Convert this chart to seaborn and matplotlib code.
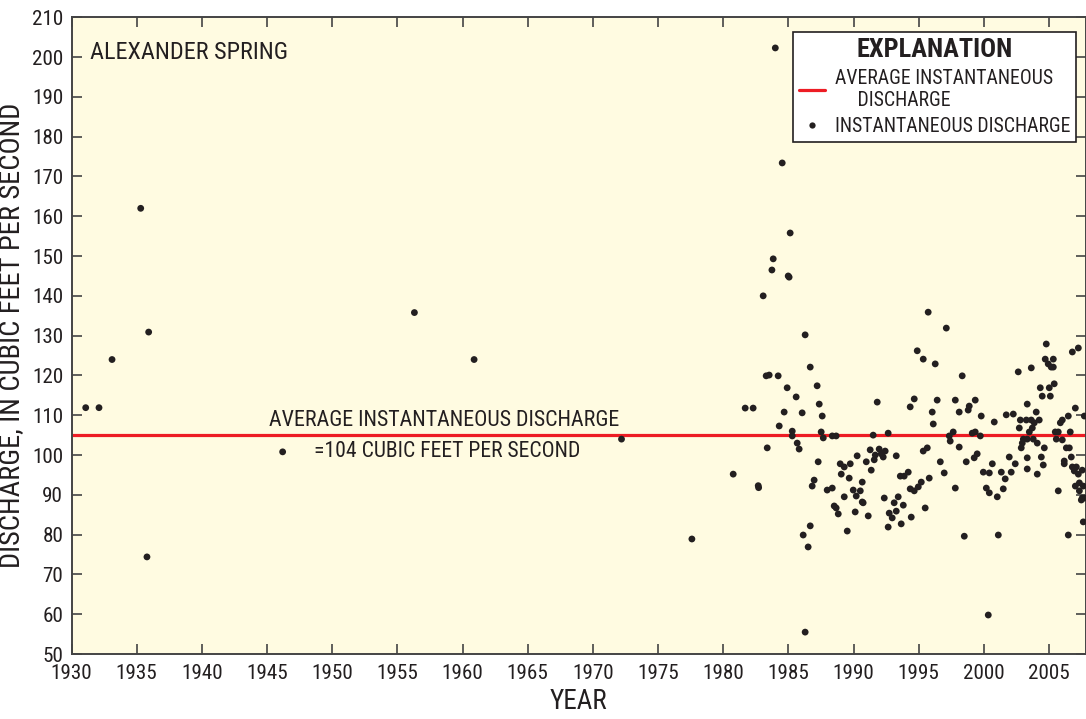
import matplotlib
matplotlib.use("Agg")
import matplotlib.pyplot as plt
from matplotlib.lines import Line2D
import seaborn as sns
import pandas as pd

# ---------------- data ----------------
years = [
    1931.09, 1932.11, 1933.11, 1935.31, 1935.79, 1935.92, 1946.2, 1956.31, 1960.89, 1972.2,
    1977.6, 1980.77, 1981.69, 1982.30, 1982.69, 1982.72, 1983.07, 1983.30, 1983.38, 1983.53,
    1983.74, 1983.84, 1984.0, 1984.22, 1984.30, 1984.53, 1984.68, 1984.91, 1984.99, 1985.06,
    1985.14, 1985.30, 1985.30, 1985.60, 1985.68, 1985.83, 1986.06, 1986.14, 1986.29, 1986.29,
    1986.52, 1986.68, 1986.68, 1986.83, 1986.98, 1987.21, 1987.29, 1987.37, 1987.52, 1987.60,
    1987.68, 1987.98, 1988.37, 1988.37, 1988.52, 1988.67, 1988.67, 1988.83, 1988.98, 1989.06,
    1989.29, 1989.29, 1989.52, 1989.67, 1989.75, 1989.98, 1990.13, 1990.21, 1990.28, 1990.52,
    1990.67, 1990.67, 1990.74, 1990.98, 1991.13, 1991.28, 1991.36, 1991.51, 1991.59, 1991.67,
    1991.82, 1991.97, 1992.13, 1992.28, 1992.36, 1992.43, 1992.66, 1992.66, 1992.74, 1992.97,
    1993.12, 1993.28, 1993.28, 1993.43, 1993.59, 1993.66, 1993.82, 1993.89, 1994.20, 1994.35,
    1994.35, 1994.43, 1994.66, 1994.66, 1994.89, 1994.97, 1995.20, 1995.35, 1995.35, 1995.50,
    1995.66, 1995.73, 1995.81, 1996.04, 1996.12, 1996.27, 1996.42, 1996.66, 1996.96, 1997.12,
    1997.35, 1997.42, 1997.65, 1997.81, 1997.81, 1998.11, 1998.11, 1998.34, 1998.50, 1998.65,
    1998.80, 1998.88, 1999.11, 1999.26, 1999.34, 1999.34, 1999.49, 1999.73, 1999.80, 1999.96,
    2000.19, 2000.34, 2000.42, 2000.42, 2000.65, 2000.80, 2001.03, 2001.11, 2001.34, 2001.49,
    2001.64, 2001.72, 2001.95, 2002.10, 2002.26, 2002.41, 2002.64, 2002.72, 2002.80, 2002.87,
    2002.95, 2003.03, 2003.26, 2003.33, 2003.33, 2003.33, 2003.33, 2003.49, 2003.64, 2003.64,
    2003.72, 2003.79, 2003.87, 2004.02, 2004.10, 2004.10, 2004.25, 2004.33, 2004.41, 2004.48,
    2004.56, 2004.64, 2004.71, 2004.79, 2004.94, 2005.02, 2005.10, 2005.17, 2005.33, 2005.33,
    2005.40, 2005.48, 2005.56, 2005.71, 2005.71, 2005.87, 2006.02, 2006.02, 2006.17, 2006.17,
    2006.33, 2006.48, 2006.48, 2006.56, 2006.63, 2006.71, 2006.79, 2006.79, 2006.94, 2007.02,
    2007.02, 2007.10, 2007.25, 2007.25, 2007.33, 2007.33, 2007.48, 2007.55, 2007.55, 2007.63,
    2007.63, 2007.71, 2007.71,
]
discharge = [
    111.9, 111.9, 124.0, 162.0, 74.4, 130.9, 100.8, 135.8, 124.0, 104.0,
    78.9, 95.2, 111.8, 111.8, 92.3, 91.8, 140.0, 119.9, 101.8, 120.1,
    146.5, 149.3, 202.3, 119.9, 107.3, 173.4, 110.8, 116.9, 145.0, 144.7,
    155.8, 106.0, 104.8, 114.6, 103.0, 101.5, 110.6, 79.9, 130.2, 55.5,
    76.9, 122.1, 82.2, 92.2, 93.7, 117.4, 98.3, 112.8, 105.8, 109.8,
    104.3, 91.2, 104.8, 91.7, 87.2, 104.8, 86.7, 85.2, 97.8, 95.2,
    97.0, 89.5, 80.9, 94.2, 97.8, 91.2, 85.7, 89.7, 99.8, 91.0,
    93.2, 88.2, 88.0, 98.3, 84.7, 101.3, 96.2, 105.0, 98.8, 100.0,
    113.3, 101.5, 100.3, 99.5, 89.2, 101.0, 105.5, 81.9, 85.4, 84.2,
    88.0, 99.8, 85.9, 89.5, 94.7, 82.7, 87.4, 94.7, 95.7, 112.1,
    91.5, 84.4, 114.1, 91.0, 126.2, 92.0, 93.2, 124.1, 101.0, 86.7,
    101.8, 135.9, 94.2, 110.8, 107.8, 122.9, 113.8, 98.3, 95.5, 131.9,
    104.8, 103.5, 105.8, 113.8, 91.7, 110.8, 102.0, 119.9, 79.6, 98.3,
    111.3, 112.3, 105.5, 99.3, 113.8, 105.8, 100.3, 104.8, 109.8, 95.7,
    91.7, 59.8, 95.5, 90.5, 97.8, 108.3, 89.5, 79.9, 95.7, 91.5,
    94.0, 110.1, 99.5, 95.7, 110.3, 97.8, 120.9, 106.8, 108.8, 101.8,
    103.0, 104.0, 108.8, 112.8, 104.0, 99.3, 96.5, 105.8, 121.9, 108.8,
    106.8, 104.0, 108.1, 110.8, 103.0, 95.2, 108.8, 116.9, 99.5, 114.8,
    97.5, 101.8, 124.1, 127.9, 122.9, 116.9, 114.8, 122.1, 124.1, 122.1,
    117.9, 105.8, 104.0, 105.8, 91.0, 108.1, 108.8, 103.8, 98.5, 97.8,
    101.8, 109.8, 79.9, 101.8, 105.8, 99.5, 125.9, 97.0, 96.0, 111.8,
    92.2, 97.0, 126.9, 95.2, 93.0, 91.0, 88.7, 96.2, 89.2, 92.2,
    83.2, 109.8, 89.2,
]
average_discharge = 105.0
x_ticks = list(range(1930, 2010, 5))
y_ticks = list(range(50, 211, 10))

# ---------------- style ----------------
sns.set_style("ticks")
plt.rcParams['font.family'] = ['Roboto Condensed', 'Open Sans Condensed', 'Liberation Sans Narrow',
                               'DejaVu Sans Condensed', 'Roboto', 'DejaVu Sans']
text_col = "#231F20"
plt.rcParams['text.color'] = text_col
plt.rcParams['axes.labelcolor'] = text_col
plt.rcParams['xtick.color'] = "#444444"
plt.rcParams['ytick.color'] = "#444444"
plt.rcParams['xtick.labelcolor'] = text_col
plt.rcParams['ytick.labelcolor'] = text_col

fig = plt.figure(figsize=(10.86, 7.19), dpi=100)
ax = fig.add_axes([71.5 / 1086, 65 / 719, 1014 / 1086, 636.7 / 719])
ax.set_facecolor("#FFFBE1")

df = pd.DataFrame({"year": years, "discharge": discharge})
ax.axhline(average_discharge, color="#ED1C24", lw=2.3, zorder=2)
sns.scatterplot(data=df, x="year", y="discharge", ax=ax, color=text_col,
                s=24, edgecolor="none", linewidth=0, zorder=3, legend=False)

ax.set_xlim(1930, 2007.8)
ax.set_ylim(50, 210)
ax.set_xticks(x_ticks)
ax.set_yticks(y_ticks)
ax.tick_params(direction="in", length=7, width=1.2, top=True, right=True,
               labelsize=15.2)
ax.tick_params(axis="y", pad=6)
ax.tick_params(axis="x", pad=7.5)
for sp in ax.spines.values():
    sp.set_color("#444444")
    sp.set_linewidth(1.4)

ax.set_xlabel("YEAR", fontsize=19.5, labelpad=3)
ax.set_ylabel("DISCHARGE, IN CUBIC FEET PER SECOND", fontsize=20.5, labelpad=5)

ax.text(0.018, 0.963, "ALEXANDER SPRING", transform=ax.transAxes, fontsize=17.5,
        ha="left", va="top")
ax.text(1958.6, 106.0, "AVERAGE INSTANTANEOUS DISCHARGE", fontsize=15.8,
        ha="center", va="bottom")
ax.text(1948.6, 100.9, "=104 CUBIC FEET PER SECOND", fontsize=15.6,
        ha="left", va="center")

handles = [Line2D([], [], color="#ED1C24", lw=2.3),
           Line2D([], [], marker="o", ls="", color=text_col, ms=4.5, mec="none")]
labels = ["AVERAGE INSTANTANEOUS\n     DISCHARGE", "INSTANTANEOUS DISCHARGE"]
leg = ax.legend(handles, labels, title="EXPLANATION", loc="upper right",
                bbox_to_anchor=(0.9906, 0.977), borderaxespad=0, fontsize=14.2,
                title_fontproperties={"weight": "bold", "size": 19},
                handlelength=1.3, handletextpad=0.5, borderpad=0.3,
                labelspacing=0.35, fancybox=False, framealpha=1,
                edgecolor="#231F20", facecolor="white")
leg.get_frame().set_linewidth(1.2)

fig.savefig("out.png", dpi=100, facecolor="white")
